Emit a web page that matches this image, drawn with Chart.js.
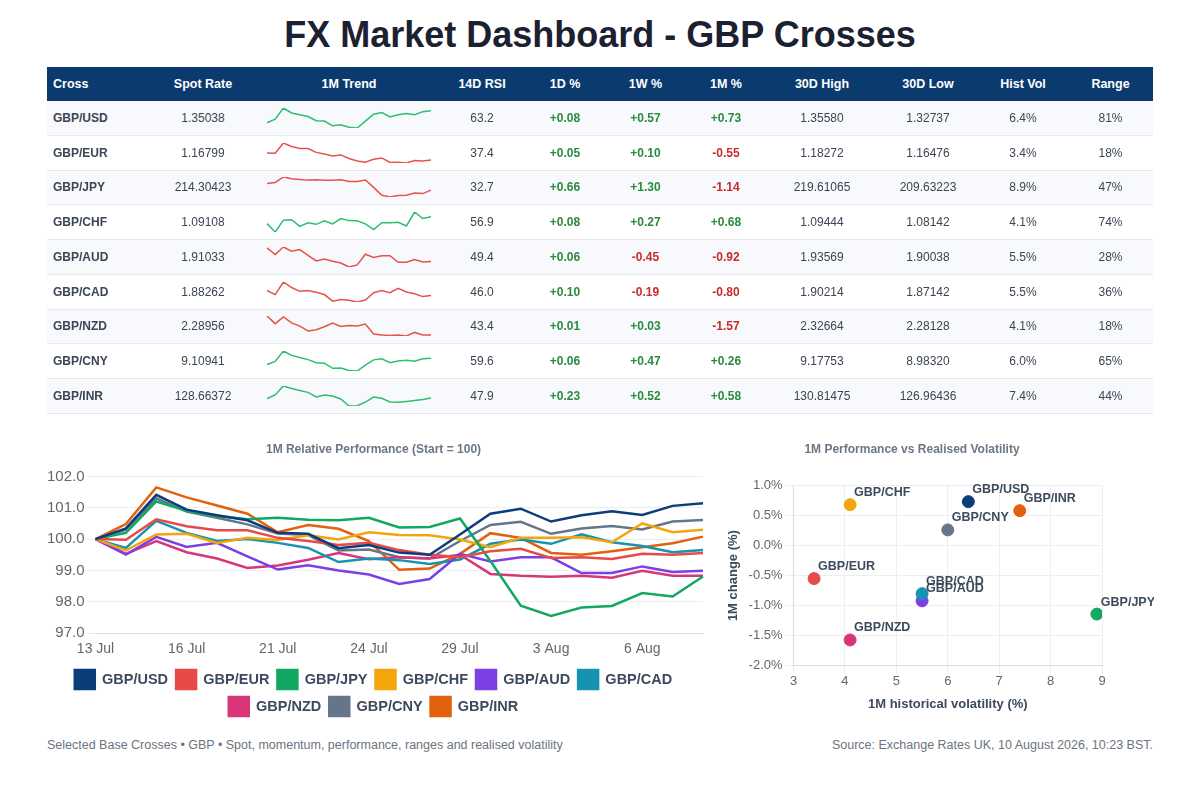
<!DOCTYPE html>
<html>
<head>
<meta charset="utf-8">
<script src="https://cdn.jsdelivr.net/npm/chart.js@4.4.1/dist/chart.umd.min.js"></script>
<style>
  html, body { margin:0; padding:0; background:#ffffff; }
  body { width:1200px; height:800px; position:relative; overflow:hidden; font-family:"Liberation Sans", Arial, sans-serif; }
  #title { position:absolute; left:0; top:14px; width:1200px; text-align:center; font-size:36px; font-weight:bold; color:#1b2130; }
  #tbl { position:absolute; left:47px; top:67px; width:1106px; border-collapse:collapse; table-layout:fixed; font-size:12px; color:#3b4553; }
  #tbl th { background:#0b3a6e; color:#ffffff; font-weight:bold; height:34px; padding:0; font-size:12.5px; text-align:center; }
  #tbl th.l, #tbl td.l { text-align:left; padding-left:6px; }
  #tbl td { height:33.75px; padding:0; text-align:center; border-bottom:1px solid #e6e9ee; }
  #tbl tr.odd td { background:#f7f9fc; }
  #tbl td.cross { font-weight:bold; color:#3b4553; }
  #tbl td.pos { color:#2b8a3e; font-weight:bold; }
  #tbl td.neg { color:#c92a2a; font-weight:bold; }
  .spark { display:block; margin:0 auto; }
  #lineWrap { position:absolute; left:40px; top:438px; width:672px; height:288px; }
  #scatWrap { position:absolute; left:722px; top:438px; width:432px; height:283px; }
  #footL { position:absolute; left:47px; top:738px; font-size:12.5px; color:#6b7480; }
  #footR { position:absolute; right:47px; top:738px; font-size:12.5px; color:#6b7480; }
</style>
</head>
<body>
<div id="title">FX Market Dashboard - GBP Crosses</div>
<table id="tbl">
  <colgroup>
    <col style="width:100px"><col style="width:112px"><col style="width:180px"><col style="width:86px">
    <col style="width:80px"><col style="width:81px"><col style="width:80px"><col style="width:112px">
    <col style="width:100px"><col style="width:90px"><col style="width:85px">
  </colgroup>
  <thead>
    <tr id="hdr"></tr>
  </thead>
  <tbody id="tbody"></tbody>
</table>
<div id="lineWrap"><canvas id="lineChart"></canvas></div>
<div id="scatWrap"><canvas id="scatChart"></canvas></div>
<div id="footL">Selected Base Crosses • GBP • Spot, momentum, performance, ranges and realised volatility</div>
<div id="footR">Source: Exchange Rates UK, 10 August 2026, 10:23 BST.</div>

<script>
// ---------- DATA ----------
const headers = ["Cross","Spot Rate","1M Trend","14D RSI","1D %","1W %","1M %","30D High","30D Low","Hist Vol","Range"];
const crosses = ["GBP/USD","GBP/EUR","GBP/JPY","GBP/CHF","GBP/AUD","GBP/CAD","GBP/NZD","GBP/CNY","GBP/INR"];
const spotRates = ["1.35038","1.16799","214.30423","1.09108","1.91033","1.88262","2.28956","9.10941","128.66372"];
const rsi14 = ["63.2","37.4","32.7","56.9","49.4","46.0","43.4","59.6","47.9"];
const chg1D = [0.08, 0.05, 0.66, 0.08, 0.06, 0.10, 0.01, 0.06, 0.23];
const chg1W = [0.57, 0.10, 1.30, 0.27, -0.45, -0.19, 0.03, 0.47, 0.52];
const chg1M = [0.73, -0.55, -1.14, 0.68, -0.92, -0.80, -1.57, 0.26, 0.58];
const high30 = ["1.35580","1.18272","219.61065","1.09444","1.93569","1.90214","2.32664","9.17753","130.81475"];
const low30 = ["1.32737","1.16476","209.63223","1.08142","1.90038","1.87142","2.28128","8.98320","126.96436"];
const histVol = [6.4, 3.4, 8.9, 4.1, 5.5, 5.5, 4.1, 6.0, 7.4];
const rangePct = ["81%","18%","47%","74%","28%","36%","18%","65%","44%"];

const dates = ["13 Jul","14 Jul","15 Jul","16 Jul","17 Jul","20 Jul","21 Jul","22 Jul","23 Jul","24 Jul",
               "27 Jul","28 Jul","29 Jul","30 Jul","31 Jul","3 Aug","4 Aug","5 Aug","6 Aug","7 Aug","10 Aug"];
const perfUSD = [100,100.34,101.41,100.94,100.76,100.60,100.20,100.17,99.71,99.81,99.57,99.50,100.15,100.81,100.97,100.56,100.76,100.89,100.77,101.06,101.14];
const perfEUR = [100,99.98,100.63,100.41,100.28,100.28,100.04,99.94,99.81,99.88,99.65,99.50,99.42,99.61,99.69,99.40,99.42,99.37,99.53,99.50,99.56];
const perfJPY = [100,100.20,101.20,100.90,100.74,100.63,100.68,100.62,100.60,100.68,100.37,100.39,100.66,99.30,97.88,97.55,97.82,97.87,98.28,98.17,98.81];
const perfCHF = [100,99.64,100.15,100.17,99.88,100.04,99.97,100.12,99.99,100.22,100.13,100.12,99.99,99.74,100.04,100.04,100.06,99.90,100.50,100.22,100.30];
const perfAUD = [100,99.51,100.07,99.75,99.88,99.45,99.03,99.17,99.00,98.87,98.57,98.73,99.53,99.29,99.42,99.42,98.92,98.92,99.13,98.95,98.99];
const perfCAD = [100,99.72,100.58,100.20,99.94,100.00,99.88,99.72,99.27,99.38,99.33,99.21,99.35,99.85,99.99,99.85,100.15,99.90,99.78,99.58,99.65];
const perfNZD = [100,99.53,99.94,99.58,99.38,99.08,99.16,99.34,99.56,99.36,99.42,99.38,99.50,98.89,98.83,98.80,98.83,98.77,98.99,98.83,98.83];
const perfCNY = [100,100.30,101.30,100.88,100.68,100.47,100.18,100.13,99.64,99.67,99.42,99.38,99.94,100.45,100.55,100.17,100.34,100.42,100.31,100.56,100.61];
const perfINR = [100,100.48,101.65,101.33,101.07,100.81,100.22,100.45,100.33,99.94,99.02,99.06,99.53,100.19,100.04,99.56,99.50,99.61,99.74,99.87,100.08];
const yTicksPerf = [97, 98, 99, 100, 101, 102];

// ---------- STYLE ----------
const seriesColors = ["#0b3d7a","#e84a4a","#10a862","#f2a60c","#7b3fe4","#1593b0","#d9367a","#66768a","#e2600e"];
const perfSeries = [perfUSD, perfEUR, perfJPY, perfCHF, perfAUD, perfCAD, perfNZD, perfCNY, perfINR];
const FONT = '"Liberation Sans", Arial, sans-serif';
Chart.defaults.font.family = FONT;
Chart.defaults.animation = false;

// ---------- TABLE ----------
const hdr = document.getElementById('hdr');
headers.forEach((h, i) => {
  const th = document.createElement('th');
  th.textContent = h;
  if (i === 0) th.className = 'l';
  hdr.appendChild(th);
});
const fmt = v => (v >= 0 ? '+' : '') + v.toFixed(2);
const tbody = document.getElementById('tbody');
crosses.forEach((c, i) => {
  const tr = document.createElement('tr');
  if (i % 2 === 0) tr.className = 'odd';
  const cells = [
    {t:c, cls:'l cross'}, {t:spotRates[i]}, {spark:true}, {t:rsi14[i]},
    {t:fmt(chg1D[i]), cls: chg1D[i] >= 0 ? 'pos' : 'neg'},
    {t:fmt(chg1W[i]), cls: chg1W[i] >= 0 ? 'pos' : 'neg'},
    {t:fmt(chg1M[i]), cls: chg1M[i] >= 0 ? 'pos' : 'neg'},
    {t:high30[i]}, {t:low30[i]}, {t:histVol[i].toFixed(1) + '%'}, {t:rangePct[i]}
  ];
  cells.forEach(cell => {
    const td = document.createElement('td');
    if (cell.cls) td.className = cell.cls;
    if (cell.spark) {
      const cv = document.createElement('canvas');
      cv.className = 'spark';
      cv.id = 'spark' + i;
      cv.width = 166; cv.height = 26;
      cv.style.width = '166px'; cv.style.height = '26px';
      td.appendChild(cv);
    } else {
      td.textContent = cell.t;
    }
    tr.appendChild(td);
  });
  tbody.appendChild(tr);
});

crosses.forEach((c, i) => {
  const col = chg1M[i] >= 0 ? '#2ebd72' : '#e5534b';
  const s = perfSeries[i];
  new Chart(document.getElementById('spark' + i), {
    type: 'line',
    data: { labels: dates, datasets: [{ data: s.slice(), borderColor: col, borderWidth: 1.5, pointRadius: 0, tension: 0 }] },
    options: {
      responsive: false, maintainAspectRatio: false,
      layout: { padding: { top: 3, bottom: 3, left: 1, right: 1 } },
      plugins: { legend: { display: false }, tooltip: { enabled: false }, title: { display: false } },
      scales: {
        x: { display: false },
        y: { display: false, min: Math.min.apply(null, s), max: Math.max.apply(null, s) }
      }
    }
  });
});

// ---------- LINE CHART ----------
new Chart(document.getElementById('lineChart'), {
  type: 'line',
  data: {
    labels: dates,
    datasets: crosses.map((c, i) => ({
      label: c, data: perfSeries[i], borderColor: seriesColors[i], backgroundColor: seriesColors[i],
      borderWidth: 2.5, pointRadius: 0, tension: 0
    }))
  },
  options: {
    responsive: true, maintainAspectRatio: false,
    layout: { padding: { left: 4, right: 9, top: 0, bottom: 0 } },
    plugins: {
      title: { display: true, text: '1M Relative Performance (Start = 100)', color: '#6b7785',
               font: { size: 12, weight: 'bold' }, padding: { top: 4, bottom: 20 } },
      legend: { position: 'bottom', labels: { boxWidth: 20, boxHeight: 19, color: '#3d4a5c', padding: 8,
               font: { size: 14.5, weight: 'bold' } } },
      tooltip: { enabled: false }
    },
    scales: {
      x: {
        grid: { display: false },
        border: { color: '#d9dde3' },
        afterFit: axis => { axis.height += 4; },
        ticks: { autoSkip: false, maxRotation: 0, padding: 0, color: '#666666', font: { size: 14 },
                 callback: function(v, idx) { return idx % 3 === 0 ? dates[idx] : ''; } }
      },
      y: {
        min: yTicksPerf[0], max: yTicksPerf[yTicksPerf.length - 1],
        afterBuildTicks: axis => { axis.ticks = yTicksPerf.map(v => ({ value: v })); },
        grid: { color: '#eceef1' },
        border: { display: false },
        ticks: { color: '#666666', font: { size: 15 }, callback: v => v.toFixed(1) }
      }
    }
  }
});

// ---------- SCATTER ----------
const labelPlugin = {
  id: 'pointLabels',
  afterDatasetsDraw(chart) {
    const ctx = chart.ctx;
    ctx.save();
    ctx.font = 'bold 12.5px ' + FONT;
    ctx.fillStyle = '#3d4a5c';
    ctx.textAlign = 'left';
    ctx.textBaseline = 'middle';
    chart.getDatasetMeta(0).data.forEach((pt, i) => {
      ctx.fillText(crosses[i], pt.x + 4, pt.y - 12);
    });
    ctx.restore();
  }
};
new Chart(document.getElementById('scatChart'), {
  type: 'scatter',
  data: {
    datasets: [{
      data: crosses.map((c, i) => ({ x: histVol[i], y: chg1M[i] })),
      backgroundColor: seriesColors, borderColor: seriesColors,
      pointRadius: 6, pointHoverRadius: 6
    }]
  },
  options: {
    responsive: true, maintainAspectRatio: false,
    layout: { padding: { left: 0, right: 52, top: 0, bottom: 5 } },
    plugins: {
      title: { display: true, text: '1M Performance vs Realised Volatility', color: '#6b7785',
               font: { size: 12, weight: 'bold' }, padding: { top: 4, bottom: 29 } },
      legend: { display: false },
      tooltip: { enabled: false }
    },
    scales: {
      x: {
        min: 3, max: 9,
        ticks: { stepSize: 1, padding: 0, color: '#666666', font: { size: 13 } },
        grid: { color: '#eceef1' },
        border: { color: '#d9dde3' },
        title: { display: true, text: '1M historical volatility (%)', color: '#3d4a5c',
                 font: { size: 13, weight: 'bold' }, padding: { top: 7, bottom: 4 } }
      },
      y: {
        min: -2, max: 1,
        ticks: { stepSize: 0.5, color: '#666666', font: { size: 13 }, callback: v => v.toFixed(1) + '%' },
        grid: { color: '#eceef1' },
        border: { color: '#d9dde3' },
        title: { display: true, text: '1M change (%)', color: '#3d4a5c', font: { size: 13, weight: 'bold' } }
      }
    }
  },
  plugins: [labelPlugin]
});
</script>
</body>
</html>
